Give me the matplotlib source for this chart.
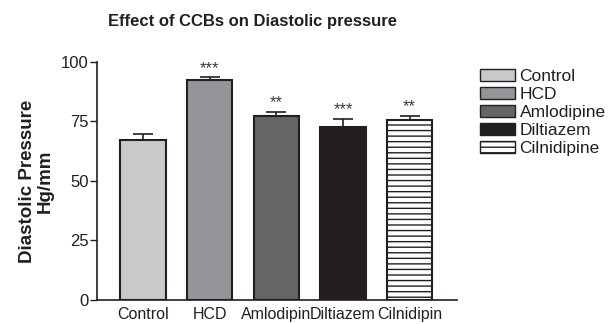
import matplotlib
matplotlib.use("Agg")
import matplotlib.pyplot as plt
from matplotlib.patches import Patch

categories = ["Control", "HCD", "Amlodipin", "Diltiazem", "Cilnidipin"]
legend_labels = ["Control", "HCD", "Amlodipine", "Diltiazem", "Cilnidipine"]
values = [67.2, 92.4, 77.4, 72.6, 75.8]
errors = [2.5, 1.2, 1.7, 3.4, 1.6]
stars = ["", "***", "**", "***", "**"]
colors = ["#c8c9cb", "#939598", "#646567", "#231f20", "#ffffff"]
hatches = ["", "", "", "", "---"]

plt.rcParams['font.family'] = ['Liberation Sans', 'DejaVu Sans']
plt.rcParams['hatch.linewidth'] = 1.0
plt.rcParams['hatch.color'] = "#231f20"

fig = plt.figure(figsize=(6.15, 3.24), dpi=100)
ax = fig.add_axes([0.158, 0.074, 0.585, 0.735])

x = list(range(len(categories)))
bars = ax.bar(x, values, width=0.68, color=colors, edgecolor="#231f20",
              linewidth=1.5, zorder=2)
for b, h in zip(bars, hatches):
    if h:
        b.set_hatch(h)
ax.errorbar(x, values, yerr=[[0]*len(errors), errors], fmt="none",
            ecolor="#231f20", elinewidth=1.2, capsize=7.5, capthick=1.2, zorder=1)
for xi, v, e, s in zip(x, values, errors, stars):
    if s:
        ax.text(xi, v + e + 0.6, s, ha="center", va="bottom", fontsize=12,
                color="#3a3a3a")

ax.set_xlim(-0.69, 4.71)
ax.set_ylim(0, 100)
ax.set_yticks([0, 25, 50, 75, 100])
ax.set_xticks(x)
ax.set_xticklabels(categories, fontsize=11.5)
ax.tick_params(axis="x", length=0, pad=5, colors="#231f20")
ax.tick_params(axis="y", length=5, width=1, labelsize=12, pad=1, colors="#231f20")
for sp in ["top", "right"]:
    ax.spines[sp].set_visible(False)
for sp in ["left", "bottom"]:
    ax.spines[sp].set_linewidth(1.2)
    ax.spines[sp].set_color("#231f20")

ax.set_ylabel("Diastolic Pressure\nHg/mm", fontsize=13.5, fontweight="bold",
              labelpad=5, linespacing=1.05, color="#231f20")
fig.text(0.41, 0.935, "Effect of CCBs on Diastolic pressure", ha="center",
         va="center", fontsize=12, fontweight="bold", color="#231f20")

handles = [Patch(facecolor=c, edgecolor="#231f20", hatch=h if h else None, linewidth=1)
           for c, h in zip(colors, hatches)]
fig.legend(handles, legend_labels, loc="upper left", bbox_to_anchor=(0.77, 0.81),
           frameon=False, fontsize=12.5, handlelength=2.0, handleheight=0.75,
           handletextpad=0.25, labelspacing=0.15, borderaxespad=0,
           labelcolor="#231f20")

fig.savefig("out.png", dpi=100)
